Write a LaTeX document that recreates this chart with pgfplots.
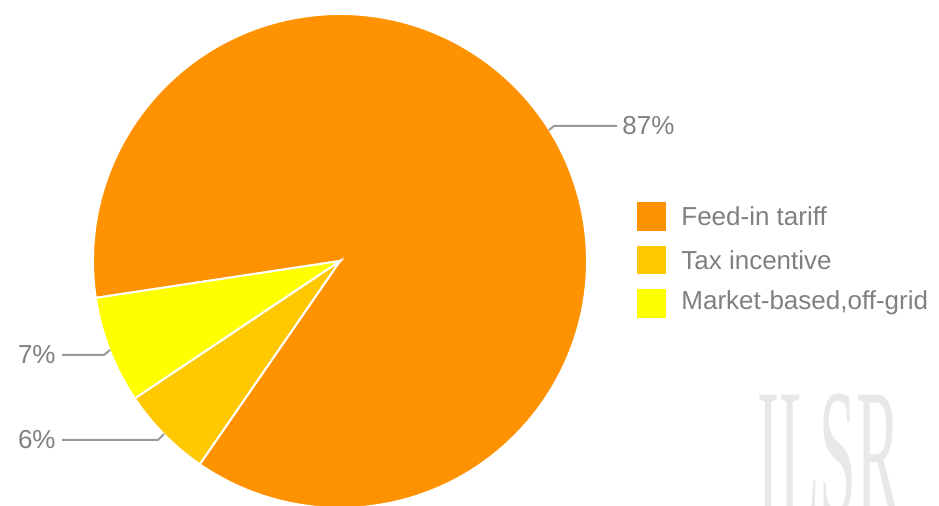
\documentclass[border=0pt]{standalone}
\usepackage{pgfplots}
\pgfplotsset{compat=1.18}
\usepackage{pgfplotstable}
\usepackage{fontspec}
\setmainfont{Liberation Sans}
\newfontfamily\logofont{Liberation Serif}

\definecolor{feedin}{HTML}{FF9200}
\definecolor{tax}{HTML}{FFC800}
\definecolor{market}{HTML}{FFFF00}
\definecolor{labelgray}{HTML}{808080}
\definecolor{linegray}{HTML}{999999}

% share of solar capacity by policy type (percent)
\pgfplotstableread[col sep=semicolon]{
label;value
Feed-in tariff;87
Tax incentive;6
Market-based,off-grid;7
}\piedata

\begin{document}
\begin{tikzpicture}
\useasboundingbox (0,0) rectangle (469.5pt,253pt);
\pgfplotstablegetelem{0}{value}\of\piedata \let\vA\pgfplotsretval
\pgfplotstablegetelem{1}{value}\of\piedata \let\vB\pgfplotsretval
\pgfplotstablegetelem{2}{value}\of\piedata \let\vC\pgfplotsretval
\pgfplotstablegetelem{0}{label}\of\piedata \let\nA\pgfplotsretval
\pgfplotstablegetelem{1}{label}\of\piedata \let\nB\pgfplotsretval
\pgfplotstablegetelem{2}{label}\of\piedata \let\nC\pgfplotsretval
% slices run clockwise from 188.6 degrees
\pgfmathsetmacro{\aA}{188.6}
\pgfmathsetmacro{\aB}{\aA-3.6*\vA}
\pgfmathsetmacro{\aC}{\aB-3.6*\vB}
\pgfmathsetmacro{\aD}{\aC-3.6*\vC}
\begin{axis}[
    anchor=origin, at={(0,0)},
    x=0.5pt, y=0.5pt,
    xmin=0, xmax=939, ymin=0, ymax=506,
    hide axis, clip=false,
]
% watermark
\node[anchor=base west, text=black!9, xscale=0.36,
      font=\logofont\fontsize{92}{92}\selectfont, inner sep=0pt]
      at (axis cs:757,-10) {ILSR};

% pie slices
\filldraw[fill=feedin, draw=white, line width=1pt]
  (axis cs:340,245) -- ({340+247*cos(\aA)},{245+247*sin(\aA)})
  arc[start angle=\aA, end angle=\aB, radius=123.5pt] -- cycle;
\filldraw[fill=tax, draw=white, line width=1pt]
  (axis cs:340,245) -- ({340+247*cos(\aB)},{245+247*sin(\aB)})
  arc[start angle=\aB, end angle=\aC, radius=123.5pt] -- cycle;
\filldraw[fill=market, draw=white, line width=1pt]
  (axis cs:340,245) -- ({340+247*cos(\aC)},{245+247*sin(\aC)})
  arc[start angle=\aC, end angle=\aD, radius=123.5pt] -- cycle;

% slice labels
\draw[linegray, line width=1pt] (axis cs:549,376) -- (axis cs:554,380) -- (axis cs:617,380);
\node[anchor=west, text=labelgray, font=\fontsize{13}{15}\selectfont, inner sep=0pt]
  at (axis cs:622,380) {\vA\%};
\draw[linegray, line width=1pt] (axis cs:110,156) -- (axis cs:104,151) -- (axis cs:62,151);
\node[anchor=east, text=labelgray, font=\fontsize{13}{15}\selectfont, inner sep=0pt]
  at (axis cs:56,151) {\vC\%};
\draw[linegray, line width=1pt] (axis cs:164,72) -- (axis cs:158,66) -- (axis cs:62,66);
\node[anchor=east, text=labelgray, font=\fontsize{13}{15}\selectfont, inner sep=0pt]
  at (axis cs:56,66) {\vB\%};

% legend
\fill[feedin] (axis cs:637,275) rectangle (axis cs:666,304);
\node[anchor=west, text=labelgray, font=\fontsize{13}{15}\selectfont, inner sep=0pt]
  at (axis cs:681,290) {\nA};
\fill[tax] (axis cs:637,232) rectangle (axis cs:666,260);
\node[anchor=west, text=labelgray, font=\fontsize{13}{15}\selectfont, inner sep=0pt]
  at (axis cs:681,246) {\nB};
\fill[market] (axis cs:637,188) rectangle (axis cs:666,217);
\node[anchor=west, text=labelgray, font=\fontsize{13}{15}\selectfont, inner sep=0pt]
  at (axis cs:681,203) {\nC};
\end{axis}
\end{tikzpicture}
\end{document}
